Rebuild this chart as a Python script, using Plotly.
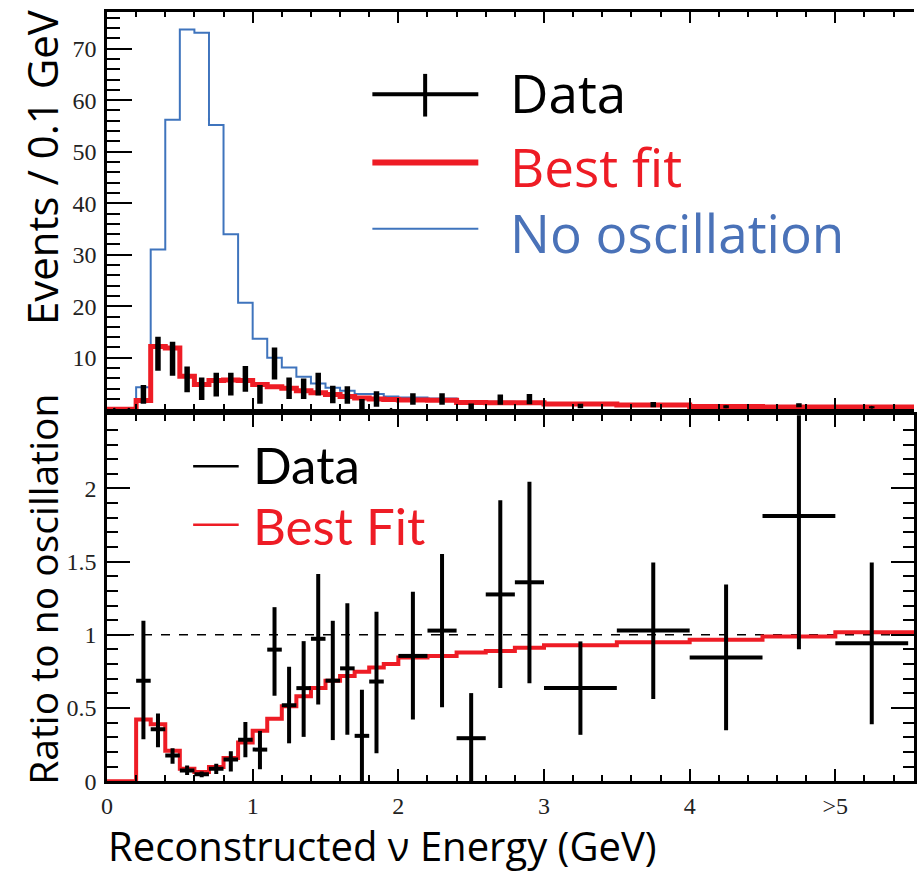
import plotly.graph_objects as go

# ---------------- data ----------------
# histogram bin edges (GeV)
bin_edges = [0.0, 0.1, 0.2, 0.3, 0.4, 0.5, 0.6, 0.7, 0.8, 0.9, 1.0,
             1.1, 1.2, 1.3, 1.4, 1.5, 1.6, 1.7, 1.8, 1.9, 2.0,
             2.2, 2.4, 2.6, 2.8, 3.0, 3.5, 4.0, 4.5, 5.0, 6.0]

# events / 0.1 GeV, no oscillation prediction
no_osc = [0, 0, 4.3, 31.0, 56.2, 73.7, 73.1, 55.2, 34.0, 20.7,
          13.7, 10.0, 8.1, 6.3, 5.0, 4.2, 3.6, 3.0, 3.0, 2.5,
          2.3, 2.1, 1.5, 1.45, 1.4, 1.12, 0.9, 0.58, 0.44, 0.42]

# events / 0.1 GeV, best fit
best_fit = [0, 0, 1.7, 12.2, 11.9, 6.4, 4.8, 5.6, 5.7, 5.6,
            4.8, 4.4, 4.1, 3.6, 3.2, 2.9, 2.5, 2.2, 2.0, 1.9,
            1.8, 1.75, 1.35, 1.3, 1.3, 1.05, 0.86, 0.56, 0.43, 0.43]

# ratio of best fit to no oscillation
fit_ratio = [0, 0, 0.422, 0.389, 0.209, 0.086, 0.063, 0.097, 0.158, 0.265,
             0.344, 0.427, 0.512, 0.580, 0.636, 0.687, 0.719, 0.748, 0.777, 0.800,
             0.845, 0.856, 0.879, 0.890, 0.912, 0.928, 0.950, 0.966, 0.988, 1.018]

# data points, top panel (events / 0.1 GeV)
data_x = [0.05, 0.15, 0.25, 0.35, 0.45, 0.55, 0.65, 0.75, 0.85, 0.95,
          1.05, 1.15, 1.25, 1.35, 1.45, 1.55, 1.65, 1.75, 1.85, 1.95,
          2.1, 2.3, 2.5, 2.7, 2.9, 3.25, 3.75, 4.25, 4.75, 5.25]
data_y = [0, 0, 2.9, 10.8, 9.8, 5.8, 4.0, 4.8, 4.9, 5.9,
          2.9, 8.9, 4.1, 4.0, 4.9, 2.9, 2.8, 1.0, 2.0, 0,
          2.0, 2.0, 0.6, 1.9, 2.0, 0.65, 0.9, 0.5, 0.8, 0.4]
data_err = [0, 0, 1.8, 3.3, 3.3, 2.5, 2.2, 2.3, 2.2, 2.5,
            1.8, 3.1, 2.1, 2.0, 2.2, 1.7, 1.7, 1.0, 1.5, 0,
            1.1, 1.1, 0.55, 1.0, 1.0, 0.45, 0.5, 0.3, 0.4, 0.2]

# data points, ratio panel
ratio_x = [0.25, 0.35, 0.45, 0.55, 0.65, 0.75, 0.85, 0.95, 1.05, 1.15,
           1.25, 1.35, 1.45, 1.55, 1.65, 1.75, 1.85,
           2.1, 2.3, 2.5, 2.7, 2.9, 3.25, 3.75, 4.25, 4.75, 5.25]
ratio_xerr = [0.05] * 17 + [0.1] * 5 + [0.25] * 5
ratio_y = [0.687, 0.355, 0.175, 0.074, 0.047, 0.086, 0.148, 0.283, 0.216, 0.899,
           0.519, 0.636, 0.973, 0.687, 0.771, 0.310, 0.681,
           0.856, 1.029, 0.294, 1.276, 1.359, 0.636, 1.029, 0.845, 1.811, 0.943]
ratio_err_up = [0.41, 0.108, 0.05, 0.034, 0.02, 0.034, 0.057, 0.121, 0.128, 0.29,
                0.263, 0.321, 0.442, 0.409, 0.445, 0.315, 0.476,
                0.438, 0.524, 0.308, 0.644, 0.687, 0.319, 0.465, 0.499, 0.75, 0.551]
ratio_err_dn = [0.40, 0.123, 0.056, 0.031, 0.02, 0.036, 0.081, 0.119, 0.135, 0.315,
                0.26, 0.333, 0.449, 0.406, 0.454, 0.31, 0.49,
                0.434, 0.524, 0.294, 0.64, 0.689, 0.319, 0.467, 0.497, 0.91, 0.554]

x_tick_vals = [0, 1, 2, 3, 4, 5]
x_tick_text = ["0", "1", "2", "3", "4", ">5"]
top_y_ticks = [10, 20, 30, 40, 50, 60, 70]
bot_y_ticks = [0, 0.5, 1, 1.5, 2]
bot_y_text = ["0", "0.5", "1", "1.5", "2"]

# ---------------- style ----------------
W, H = 917, 876
RED = "#ee1c25"
BLUE = "#3f74bd"
BLUE_TXT = "#4a72b8"
SANS = "Open Sans"
SANS2 = "Lato"
SERIF = "Liberation Serif"
TICK_FONT = dict(family=SERIF, size=24, color="#222")


def px_x(p):
    return p / W


def px_y(p):
    return 1 - p / H


x0_dom = px_x(102)
top_dom = [px_y(415.5), px_y(11.7)]
bot_dom = [px_y(793), px_y(421.5)]
XR = [0, 5.54]

fig = go.Figure()


def step(vals):
    return list(vals) + [vals[-1]]


fig.add_trace(go.Scatter(x=bin_edges, y=step(no_osc), mode="lines", line_shape="hv",
                         line=dict(color=BLUE, width=2), xaxis="x", yaxis="y",
                         showlegend=False))
fig.add_trace(go.Scatter(x=bin_edges, y=step(best_fit), mode="lines", line_shape="hv",
                         line=dict(color=RED, width=5), xaxis="x", yaxis="y",
                         showlegend=False))
fig.add_trace(go.Scatter(x=data_x, y=data_y, mode="markers",
                         marker=dict(color="black", size=3),
                         error_y=dict(type="data", array=data_err, color="black",
                                      thickness=5.5, width=0),
                         xaxis="x", yaxis="y", showlegend=False))

fig.add_trace(go.Scatter(x=bin_edges, y=step(fit_ratio), mode="lines", line_shape="hv",
                         line=dict(color=RED, width=4), xaxis="x2", yaxis="y2",
                         showlegend=False))
fig.add_trace(go.Scatter(x=ratio_x, y=ratio_y, mode="markers",
                         marker=dict(color="black", size=2),
                         error_y=dict(type="data", symmetric=False, array=ratio_err_up,
                                      arrayminus=ratio_err_dn, color="black",
                                      thickness=4, width=0),
                         error_x=dict(type="data", array=ratio_xerr, color="black",
                                      thickness=4, width=0),
                         xaxis="x2", yaxis="y2", showlegend=False))

axis_common = dict(showgrid=False, zeroline=False, showline=True, linecolor="black",
                   linewidth=2.5, ticks="inside", tickcolor="black", tickwidth=2)

fig.update_layout(
    width=W, height=H, margin=dict(l=0, r=0, t=0, b=0),
    paper_bgcolor="white", plot_bgcolor="white",
    xaxis=dict(domain=[x0_dom, 1], range=XR, anchor="y", mirror="ticks",
               tickmode="array", tickvals=x_tick_vals, showticklabels=False,
               ticklen=12, minor=dict(dtick=0.2, tick0=0, ticklen=6, ticks="inside",
                                      tickcolor="black", tickwidth=1.5),
               **axis_common),
    yaxis=dict(domain=top_dom, range=[0, 77.2], anchor="x", mirror=False,
               tickmode="array", tickvals=top_y_ticks, ticklen=25,
               tickfont=TICK_FONT, ticklabelstandoff=3,
               minor=dict(dtick=2, tick0=0, ticklen=13, ticks="inside",
                          tickcolor="black", tickwidth=2),
               **axis_common),
    xaxis2=dict(domain=[x0_dom, 1], range=XR, anchor="y2", mirror="ticks",
                tickmode="array", tickvals=x_tick_vals, ticktext=x_tick_text,
                ticklen=12, tickfont=TICK_FONT, ticklabelstandoff=1,
                minor=dict(dtick=0.2, tick0=0, ticklen=6, ticks="inside",
                           tickcolor="black", tickwidth=1.5),
                **axis_common),
    yaxis2=dict(domain=bot_dom, range=[0, 2.5], anchor="x2", mirror="ticks",
                tickmode="array", tickvals=bot_y_ticks, ticktext=bot_y_text,
                ticklen=23, tickfont=TICK_FONT, ticklabelstandoff=3,
                minor=dict(dtick=0.1, tick0=0, ticklen=11, ticks="inside",
                           tickcolor="black", tickwidth=2),
                **axis_common),
)

# reference line at ratio = 1
fig.add_shape(type="line", xref="paper", yref="y2", x0=x0_dom, x1=1, y0=1, y1=1,
              line=dict(color="black", width=1.5, dash="dash"), layer="below")

# legend, top panel
fig.add_shape(type="line", xref="paper", yref="paper", x0=px_x(370), x1=px_x(477),
              y0=px_y(95.7), y1=px_y(95.7), line=dict(color="black", width=4))
fig.add_shape(type="line", xref="paper", yref="paper", x0=px_x(423.3), x1=px_x(423.3),
              y0=px_y(75), y1=px_y(118.3), line=dict(color="black", width=4))
fig.add_shape(type="line", xref="paper", yref="paper", x0=px_x(370), x1=px_x(477),
              y0=px_y(165), y1=px_y(165), line=dict(color=RED, width=6))
fig.add_shape(type="line", xref="paper", yref="paper", x0=px_x(370), x1=px_x(477),
              y0=px_y(232.3), y1=px_y(232.3), line=dict(color=BLUE, width=2))

# legend, bottom panel
fig.add_shape(type="line", xref="paper", yref="paper", x0=px_x(189), x1=px_x(235),
              y0=px_y(473.3), y1=px_y(473.3), line=dict(color="black", width=2.5))
fig.add_shape(type="line", xref="paper", yref="paper", x0=px_x(189), x1=px_x(235),
              y0=px_y(532.7), y1=px_y(532.7), line=dict(color=RED, width=2.5))


def label(text, x, y, size, color, angle=0, xanchor="left", family=SANS):
    fig.add_annotation(text=text, xref="paper", yref="paper", x=px_x(x), y=px_y(y),
                       xanchor=xanchor, yanchor="middle", showarrow=False,
                       textangle=angle, font=dict(family=family, size=size, color=color))


label("Data", 507, 94, 53, "black")
label("Best fit", 507, 169, 53, RED)
label("No oscillation", 507, 236, 53, BLUE_TXT)
label("Data", 247, 472, 51, "black", family=SANS2)
label("Best Fit", 247, 533, 51, RED, family=SANS2)

label("Events / 0.1 GeV", 36, 170, 42, "black", angle=-90, xanchor="center")
label("Ratio to no oscillation", 36, 598, 39, "black", angle=-90, xanchor="center")
label("Reconstructed \u03bd Energy (GeV)", 380, 858, 40, "black", xanchor="center")

fig.write_html("out.html")
